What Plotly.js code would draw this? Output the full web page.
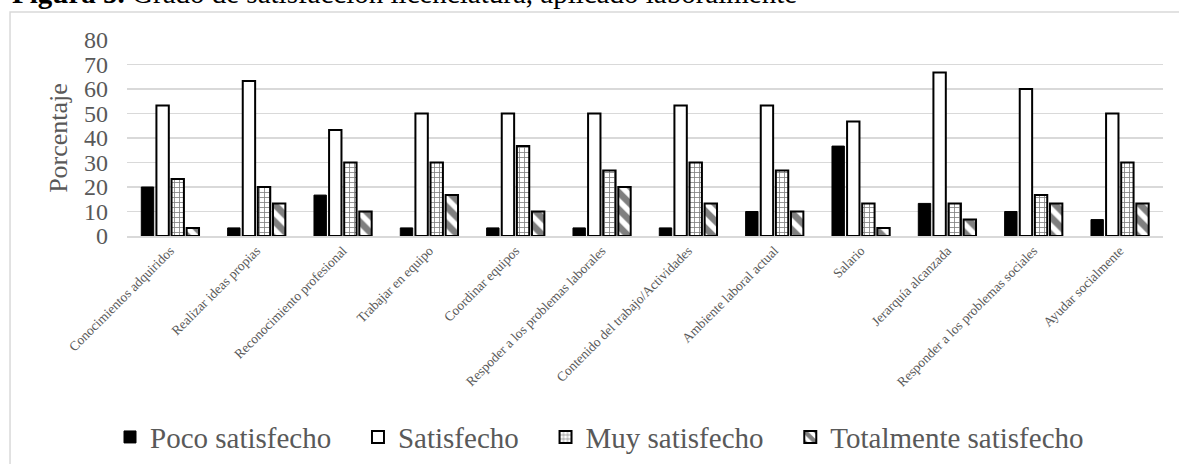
<!DOCTYPE html>
<html>
<head>
<meta charset="utf-8">
<script src="https://cdn.plot.ly/plotly-3.0.1.min.js"></script>
<style>html,body{margin:0;padding:0;background:#fff;}#chart{width:1179px;height:464px;}</style>
</head>
<body>
<div id="chart"></div>
<script>
const categories = [
  "Conocimientos adquiridos",
  "Realizar ideas propias",
  "Reconocimiento profesional",
  "Trabajar en equipo",
  "Coordinar equipos",
  "Respoder a los problemas laborales",
  "Contenido del trabajo/Actividades",
  "Ambiente laboral actual",
  "Salario",
  "Jerarquía alcanzada",
  "Responder a los problemas sociales",
  "Ayudar socialmente"
];
const pocoSatisfecho = [20, 3.3, 16.7, 3.3, 3.3, 3.3, 3.3, 10, 36.7, 13.3, 10, 6.7];
const satisfecho = [53.3, 63.3, 43.3, 50, 50, 50, 53.3, 53.3, 46.7, 66.7, 60, 50];
const muySatisfecho = [23.3, 20, 30, 30, 36.7, 26.7, 30, 26.7, 13.3, 13.3, 16.7, 30];
const totalmenteSatisfecho = [3.3, 13.3, 10, 16.7, 10, 20, 13.3, 10, 3.3, 6.7, 13.3, 13.3];
const yTicks = [0, 10, 20, 30, 40, 50, 60, 70, 80];
const seriesNames = ["Poco satisfecho", "Satisfecho", "Muy satisfecho", "Totalmente satisfecho"];

const serif = "Liberation Serif";
const gray = "#595959";
const pad = "\u00A0".repeat(3);

const traces = [
  {type: "bar", name: seriesNames[0] + pad, x: categories, y: pocoSatisfecho,
   marker: {color: "#000000", line: {color: "#000000", width: 1}}},
  {type: "bar", name: seriesNames[1] + pad, x: categories, y: satisfecho,
   marker: {color: "#ffffff", line: {color: "#000000", width: 2}}},
  {type: "bar", name: seriesNames[2] + pad, x: categories, y: muySatisfecho,
   marker: {color: "#ffffff", line: {color: "#000000", width: 2},
            pattern: {shape: "+", fgcolor: "#000000", bgcolor: "#ffffff", size: 5, solidity: 0.3, fillmode: "overlay"}}},
  {type: "bar", name: seriesNames[3], x: categories, y: totalmenteSatisfecho,
   marker: {color: "#ffffff", line: {color: "#000000", width: 2},
            pattern: {shape: "\\", fgcolor: "#000000", bgcolor: "#ffffff", size: 12, solidity: 0.55, fillmode: "overlay"}}}
];

const layout = {
  width: 1179, height: 464,
  margin: {l: 127, r: 16, t: 40, b: 228, autoexpand: false},
  paper_bgcolor: "#ffffff", plot_bgcolor: "#ffffff",
  showlegend: true,
  barmode: "group",
  bargap: 0.3,
  bargroupgap: 0.18,
  font: {family: serif, color: gray},
  xaxis: {
    tickangle: -45,
    tickfont: {family: serif, size: 13.5, color: gray},
    showgrid: false, zeroline: false,
    showline: true, linecolor: "#d9d9d9", linewidth: 1.5,
    ticks: "", automargin: false
  },
  yaxis: {
    range: [0, 80], tickvals: yTicks,
    tickfont: {family: serif, size: 24, color: gray},
    showgrid: true, gridcolor: "#d9d9d9", gridwidth: 1.5,
    zeroline: false, showline: false, ticks: "",
    ticklabelstandoff: 18, automargin: false,
    title: {text: "Porcentaje", font: {family: serif, size: 26, color: gray}, standoff: 8}
  },
  legend: {
    orientation: "h", xref: "container", yref: "container",
    x: 0.0933, xanchor: "left", y: 0.058, yanchor: "middle",
    font: {family: serif, size: 29, color: gray},
    itemwidth: 30, tracegroupgap: 0
  },
  shapes: [
    {type: "rect", xref: "paper", yref: "paper", x0: -0.1129, x1: 1.05, y0: -1.3, y1: 1.1429,
     line: {color: "#d9d9d9", width: 1.5}, fillcolor: "rgba(0,0,0,0)", layer: "below"}
  ],
  annotations: [
    {xref: "paper", yref: "paper", x: -0.113, y: 1.15, xanchor: "left", yanchor: "bottom",
     showarrow: false, align: "left",
     text: "<b>Figura 5.</b> Grado de satisfacción licenciatura, aplicado laboralmente",
     font: {family: serif, size: 29, color: "#000000"}}
  ]
};

Plotly.newPlot("chart", traces, layout, {staticPlot: true});
</script>
</body>
</html>
